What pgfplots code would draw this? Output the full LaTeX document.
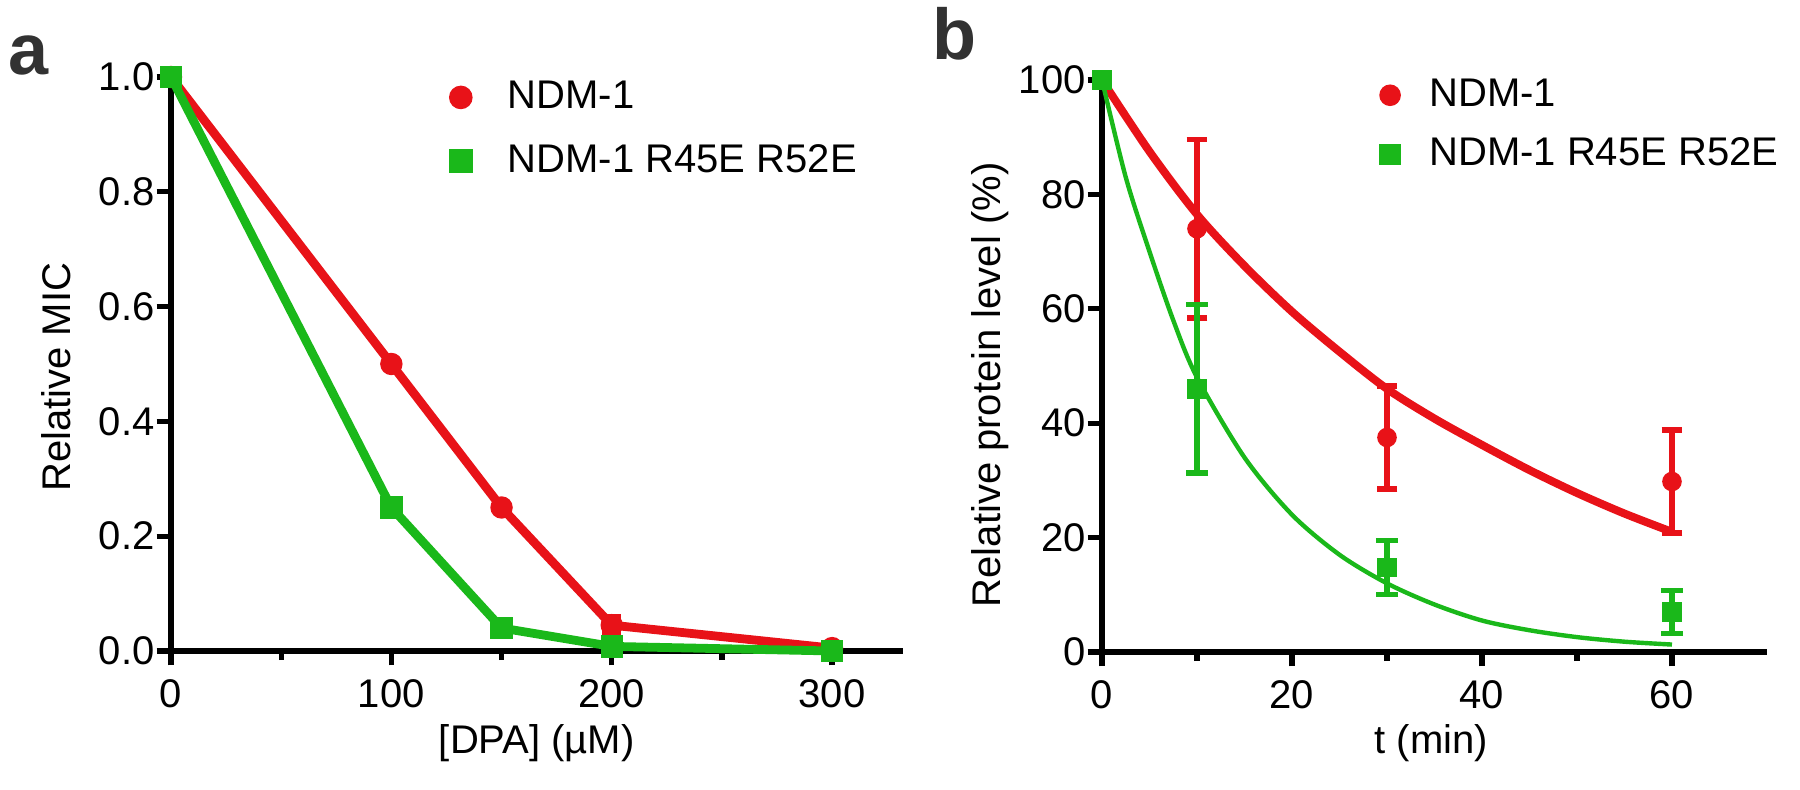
\documentclass[border=0pt]{standalone}
\usepackage{fontspec}
\setmainfont{Liberation Sans}
\usepackage{pgfplots}
\pgfplotsset{compat=1.18}

\definecolor{ndmred}{RGB}{232,18,24}
\definecolor{ndmgreen}{RGB}{26,184,26}
\definecolor{lettergray}{RGB}{50,50,50}

\pgfplotsset{
  prism/.style={
    scale only axis,
    clip=false,
    axis x line*=bottom,
    axis y line*=left,
    axis line style={line width=1.7pt, black},
    tick align=outside,
    major tick length=3.6pt,
    minor tick length=2.3pt,
    tick style={line width=1.3pt, black},
    tick label style={font=\fontsize{10}{12}\selectfont},
    label style={font=\fontsize{10}{12}\selectfont},
    xticklabel style={inner sep=3.3pt},
    yticklabel style={inner sep=0.3pt},
    /pgf/number format/assume math mode=true,
    legend cell align=left,
    legend style={draw=none, fill=none, inner sep=0pt,
      font=\fontsize{10}{12}\selectfont, nodes={inner sep=0pt}},
    legend image code/.code={\draw[#1] plot coordinates {(0pt,0pt)};},
  }
}

\begin{document}
\begin{tikzpicture}
\useasboundingbox (0,0) rectangle (450pt,197.5pt);

\node[anchor=base west, inner sep=0pt, text=lettergray,
  font=\bfseries\fontsize{18}{20}\selectfont] at (2pt,178.75pt) {a};
\node[anchor=base west, inner sep=0pt, text=lettergray,
  font=\bfseries\fontsize{18}{20}\selectfont] at (233pt,182.5pt) {b};

% panel a
\begin{axis}[prism,
  at={(42.75pt,34.75pt)}, anchor=south west,
  width=182.9pt, height=143.5pt,
  xmin=0, xmax=332, ymin=0, ymax=1,
  xtick={0,100,200,300}, minor xtick={50,150,250},
  ytick={0,0.2,0.4,0.6,0.8,1.0},
  yticklabel style={/pgf/number format/.cd, fixed, fixed zerofill, precision=1},
  xlabel={[DPA] (µM)}, ylabel={Relative MIC},
  every axis x label/.style={at={(axis description cs:0.5,-0.16)}, anchor=center},
  every axis y label/.style={at={(axis description cs:-0.157,0.477)}, rotate=90, anchor=center},
  legend style={at={(0.380,0.995)}, anchor=north west,
    /tikz/row sep=7.5pt, /tikz/column sep=9pt},
]
\addlegendimage{only marks, mark=*, mark size=2.75pt, ndmred}
\addlegendentry{NDM-1}
\addlegendimage{only marks, mark=square*, mark size=2.75pt, ndmgreen}
\addlegendentry{NDM-1 R45E R52E}

\addplot[forget plot, ndmred, line width=2.2pt, mark=*, mark size=2.6pt,
  mark options={line width=0.4pt},
  error bars/.cd, y dir=both, y explicit,
  error bar style={line width=1.2pt, ndmred},
  error mark options={rotate=90, mark size=2.4pt, line width=1.2pt, ndmred}]
  coordinates {(0,1) (100,0.5) (150,0.25) (200,0.045) +- (0,0.015) (300,0.005)};
\addplot[forget plot, ndmgreen, line width=2.2pt, mark=square*, mark size=2.6pt,
  mark options={line width=0.4pt}]
  coordinates {(0,1) (100,0.25) (150,0.04) (200,0.008) (300,0.0)};
\end{axis}

% panel b
\begin{axis}[prism,
  at={(275.5pt,34.5pt)}, anchor=south west,
  width=166.25pt, height=143pt,
  xmin=0, xmax=70, ymin=0, ymax=100,
  xtick={0,20,40,60}, minor xtick={10,30,50},
  ytick={0,20,40,60,80,100},
  xlabel={t (min)}, ylabel={Relative protein level (\%)},
  every axis x label/.style={at={(axis description cs:0.495,-0.16)}, anchor=center},
  every axis y label/.style={at={(axis description cs:-0.168,0.467)}, rotate=90, anchor=center},
  legend style={at={(0.417,1.004)}, anchor=north west,
    /tikz/row sep=6.4pt, /tikz/column sep=7.3pt},
]
\addlegendimage{only marks, mark=*, mark size=2.5pt, ndmred}
\addlegendentry{NDM-1}
\addlegendimage{only marks, mark=square*, mark size=2.5pt, ndmgreen}
\addlegendentry{NDM-1 R45E R52E}

\addplot[forget plot, ndmred, only marks, mark=*, mark size=2.25pt,
  error bars/.cd, y dir=both, y explicit,
  error bar style={line width=1.3pt, ndmred},
  error mark options={rotate=90, mark size=2.6pt, line width=1.3pt, ndmred}]
  coordinates {(0,100) (10,74) +- (0,15.6) (30,37.5) +- (0,9) (60,29.8) +- (0,9)};
\addplot[forget plot, ndmgreen, only marks, mark=square*, mark size=2.25pt,
  error bars/.cd, y dir=both, y explicit,
  error bar style={line width=1.3pt, ndmgreen},
  error mark options={rotate=90, mark size=2.8pt, line width=1.3pt, ndmgreen}]
  coordinates {(0,100) (10,46) +- (0,14.7) (30,14.8) +- (0,4.7) (60,7) +- (0,3.8)};

% fitted decay curves
\addplot[forget plot, ndmred, line width=2pt, smooth]
  coordinates {(0,100) (5,87.5) (10,76.5) (15,67.5) (20,59.5) (25,52.5) (30,46)
    (35,40.8) (40,36.2) (45,31.8) (50,27.8) (55,24.2) (60,21)};
\addplot[forget plot, ndmgreen, line width=1.1pt, smooth]
  coordinates {(0,100) (2.5,83) (5,70) (7.5,58) (10,48) (15,34) (20,24) (25,17)
    (30,12) (35,8.3) (40,5.5) (45,3.8) (50,2.6) (55,1.8) (60,1.3)};
\end{axis}
\end{tikzpicture}
\end{document}
